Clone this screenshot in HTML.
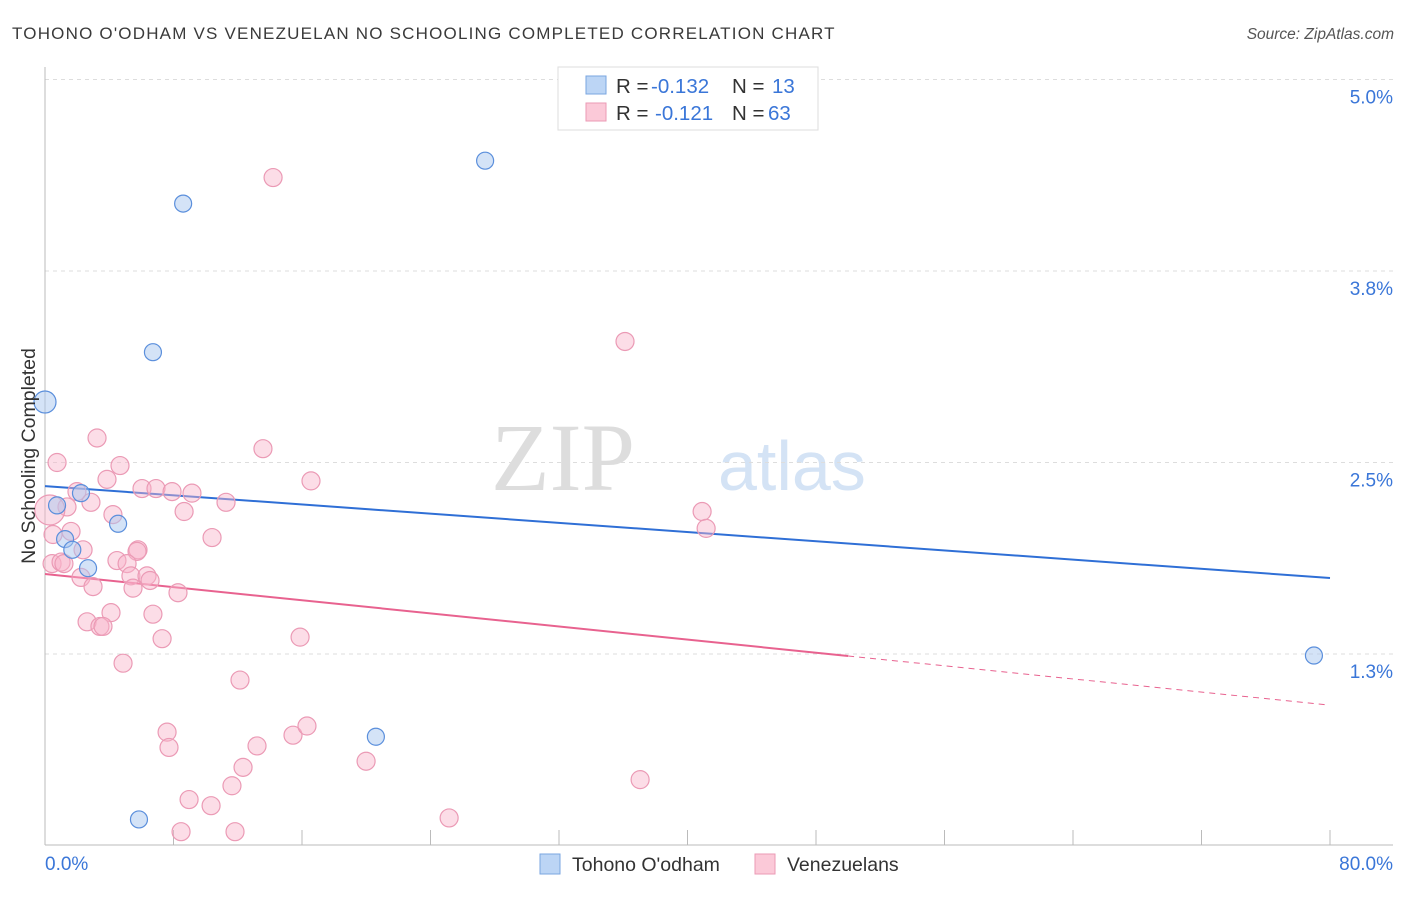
<!DOCTYPE html>
<html><head><meta charset="utf-8"><style>
body{margin:0;background:#fff;font-family:"Liberation Sans",sans-serif;}
svg text{font-family:"Liberation Sans",sans-serif;}
</style></head><body>
<svg id="chart" width="1406" height="892" viewBox="0 0 1406 892" xmlns="http://www.w3.org/2000/svg">
<text x="12" y="39" font-size="17" fill="#3a3a3a" letter-spacing="1.2">TOHONO O'ODHAM VS VENEZUELAN NO SCHOOLING COMPLETED CORRELATION CHART</text>
<text x="1394" y="39" font-size="15.5" fill="#555" text-anchor="end" font-style="italic">Source: ZipAtlas.com</text>
<g>
<text x="635" y="490" font-size="96" fill="#ddd" text-anchor="end" font-family="Liberation Serif" style="font-family:'Liberation Serif',serif">ZIP</text>
<text x="718" y="490" font-size="70" fill="#d4e3f5">atlas</text>
</g>
<g id="grid"></g>
<g id="axes"></g>
<g id="trends"></g>
<g id="points"></g>
<text transform="translate(35,456) rotate(-90)" font-size="19.5" fill="#333" text-anchor="middle">No Schooling Completed</text>
<g>
<rect x="558" y="67" width="260" height="63" fill="#fff" stroke="#ddd"/>
<rect x="586" y="76" width="20" height="18" fill="#bcd5f5" stroke="#7aa6e0"/>
<rect x="586" y="103" width="20" height="18" fill="#fbc9d8" stroke="#eb9ab5"/>
<text x="616" y="93" font-size="20.5" fill="#333">R = </text><text x="651" y="93" font-size="20.5" fill="#3a76d8">-0.132</text>
<text x="732" y="93" font-size="20.5" fill="#333">N = </text><text x="772" y="93" font-size="20.5" fill="#3a76d8">13</text>
<text x="616" y="120" font-size="20.5" fill="#333">R = </text><text x="655" y="120" font-size="20.5" fill="#3a76d8">-0.121</text>
<text x="732" y="120" font-size="20.5" fill="#333">N = </text><text x="768" y="120" font-size="20.5" fill="#3a76d8">63</text>
</g>
<g>
<rect x="540" y="854" width="20" height="20" fill="#bcd5f5" stroke="#7aa6e0"/>
<text x="572" y="871" font-size="19.5" fill="#333">Tohono O'odham</text>
<rect x="755" y="854" width="20" height="20" fill="#fbc9d8" stroke="#eb9ab5"/>
<text x="787" y="871" font-size="19.5" fill="#333">Venezuelans</text>
</g>
</svg>
<script>
const yTicks=[1.25,2.5,3.75,5.0];
const yTickLabels=["1.3%","2.5%","3.8%","5.0%"];
const xTickLabels=["0.0%","80.0%"];
const blueX=[0,0.75,1.25,1.7,2.24,2.68,4.55,6.72,8.6,5.85,20.6,27.4,79.0];
const blueY=[2.895,2.22,2.0,1.93,2.30,1.81,2.10,3.22,4.19,0.17,0.71,4.47,1.24];
const pinkX=[3.24,0.75,4.67,13.57,3.86,16.56,1.99,6.04,6.91,7.91,9.15,2.86,11.27,1.37,0.3,8.66,4.23,1.62,0.5,10.4,2.37,5.79,5.73,0.44,1.0,1.18,4.48,5.11,2.24,5.35,6.35,6.54,2.99,5.48,8.28,4.11,6.72,2.62,3.42,3.61,7.29,15.88,4.86,14.2,36.11,40.91,41.16,12.14,7.6,7.72,13.2,12.33,15.44,16.31,11.64,8.97,10.34,8.47,11.83,19.99,25.16,37.05];
const pinkY=[2.66,2.5,2.48,2.59,2.39,2.38,2.31,2.33,2.33,2.31,2.3,2.24,2.24,2.21,2.19,2.18,2.16,2.05,2.03,2.01,1.93,1.93,1.92,1.84,1.85,1.84,1.86,1.84,1.75,1.76,1.76,1.73,1.69,1.68,1.65,1.52,1.51,1.46,1.43,1.43,1.35,1.36,1.19,4.36,3.29,2.18,2.07,1.08,0.74,0.64,0.65,0.51,0.72,0.78,0.39,0.30,0.26,0.09,0.09,0.55,0.18,0.43];
const blueTrend=[2.346,1.746];
const pinkTrend=[1.772,0.916];
const pinkSolidEnd=50;
const NS="http://www.w3.org/2000/svg";
const X=v=>45+v*1285/80, Y=v=>845.5-v*153.2;
function mk(tag,attrs,parent){const e=document.createElementNS(NS,tag);for(const k in attrs)e.setAttribute(k,attrs[k]);parent.appendChild(e);return e;}
const grid=document.getElementById('grid'),axes=document.getElementById('axes'),tr=document.getElementById('trends'),pts=document.getElementById('points');
yTicks.forEach((t,i)=>{
 const l=mk('line',{x1:45,x2:1393,y1:Y(t),y2:Y(t),stroke:'#ddd','stroke-dasharray':'4,4'},grid);
 
 
 const tx=mk('text',{x:1393,y:Y(t)+24,'font-size':19,fill:'#3a76d8','text-anchor':'end'},axes);
 tx.textContent=yTickLabels[i];
 
 
});
mk('line',{x1:45,x2:45,y1:67,y2:845,stroke:'#bbb'},axes);
mk('line',{x1:45,x2:1393,y1:845,y2:845,stroke:'#bbb'},axes);
for(let i=0;i<=10;i++){const t=mk('line',{x1:X(i*8),x2:X(i*8),y1:830,y2:845,stroke:'#bbb'},axes);}
[[0,'start',45],[80,'end',1393]].forEach((d,i)=>{const t=mk('text',{x:d[2],y:870,'font-size':19,fill:'#3a76d8','text-anchor':d[1]},axes);t.textContent=xTickLabels[i];});
const bl=mk('line',{x1:X(0),y1:Y(blueTrend[0]),x2:X(80),y2:Y(blueTrend[1]),stroke:'#2f6fd6','stroke-width':2},tr);


const pm=pinkTrend[0]+(pinkTrend[1]-pinkTrend[0])*pinkSolidEnd/80;
const pl=mk('line',{x1:X(0),y1:Y(pinkTrend[0]),x2:X(pinkSolidEnd),y2:Y(pm),stroke:'#e8628f','stroke-width':2},tr);


const pd=mk('line',{x1:X(pinkSolidEnd),y1:Y(pm),x2:X(79.7),y2:Y(pinkTrend[0]+(pinkTrend[1]-pinkTrend[0])*79.7/80),stroke:'#e8628f','stroke-width':1,'stroke-dasharray':'6,5'},tr);


pinkX.forEach((x,i)=>{const c=mk('circle',{cx:X(x),cy:Y(pinkY[i]),r:(i==14?15:9),fill:'rgba(248,180,202,0.45)',stroke:'#eb9ab5','stroke-width':1.2},pts);});
blueX.forEach((x,i)=>{const c=mk('circle',{cx:X(x),cy:Y(blueY[i]),r:(i==0?11:8.5),fill:'rgba(170,200,240,0.5)',stroke:'#5b8fdc','stroke-width':1.2},pts);});
</script>
</body></html>
